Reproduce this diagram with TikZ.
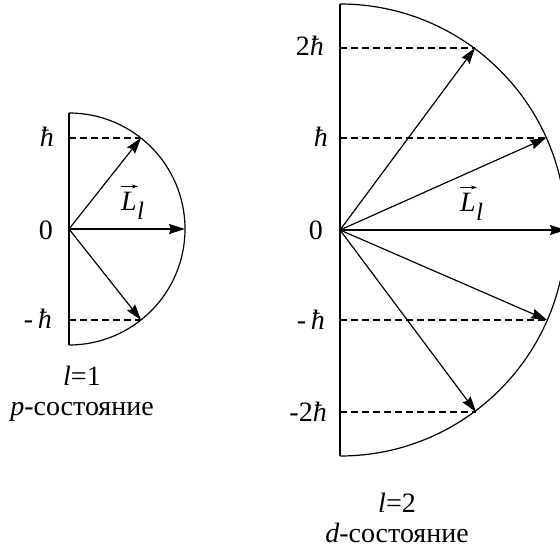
\documentclass[tikz,border=0pt]{standalone}
\usepackage{fontspec}
\setmainfont{Liberation Serif}
\usetikzlibrary{arrows.meta}
\begin{document}
\begin{tikzpicture}[x=1bp,y=-1bp,
  vecarrow/.style={line width=1.2bp,-{Stealth[length=16bp,width=10bp,inset=2bp]}},
  guide/.style={line width=1.2bp,dash pattern=on 7bp off 4bp},
  frame/.style={line width=1.2bp},
  lbl/.style={font=\fontsize{28bp}{31bp}\selectfont,inner sep=0pt},
  sublbl/.style={font=\fontsize{25bp}{27bp}\selectfont\itshape,inner sep=0pt},
  overarrow/.style={line width=1bp,-{Stealth[length=6bp,width=4bp]}}]
\useasboundingbox (0,0) rectangle (560,549);
\clip (0,0) rectangle (560,549);

% ---------- left: l = 1 ----------
\coordinate (A) at (69,229);
\coordinate (Atop) at (69,113);
\coordinate (Abot) at (69,345);
\coordinate (Ap) at (69,138);
\coordinate (Am) at (69,320);
\coordinate (Ap1) at (141,138);
\coordinate (A0) at (185,229);
\coordinate (Am1) at (141,320);
\draw[frame] (Atop) -- (Abot);
\draw[frame] (Atop) arc[start angle=90,end angle=-90,radius=116bp];
\draw[guide] (Ap) -- (Ap1);
\draw[guide] (Am) -- (Am1);
\draw[vecarrow] (A) -- (Ap1);
\draw[vecarrow] (A) -- (A0);
\draw[vecarrow] (A) -- (Am1);
\node[lbl,anchor=base east] (a1) at (54,147) {\itshape ħ};
\node[lbl,anchor=base east] (a0) at (53,239) {0};
\node[lbl,anchor=base east] (am) at (52,328) {-\,\itshape ħ};
\node[lbl,anchor=base west] (LA) at (121,211) {\itshape L};
\node[sublbl,anchor=base west] (lA) at ([xshift=0bp,yshift=-9bp]LA.base east) {l};
\draw[overarrow] ([yshift=6bp]LA.north west) -- ([xshift=1bp,yshift=6bp]LA.north east);
\node[lbl,anchor=base] (t1) at (82,385) {\itshape l\upshape =1};
\node[lbl,anchor=base] (s1) at (82,415) {\itshape p\upshape -состояние};

% ---------- right: l = 2 ----------
\coordinate (B) at (340,230);
\coordinate (Btop) at (340,4);
\coordinate (Bbot) at (340,456);
\coordinate (Bp2) at (340,48);
\coordinate (Bp1) at (340,138);
\coordinate (Bm1) at (340,320);
\coordinate (Bm2) at (340,412);
\coordinate (Tp2) at (475,48);
\coordinate (Tp1) at (546,138);
\coordinate (T0) at (566,230);
\coordinate (Tm1) at (547,320);
\coordinate (Tm2) at (476,412);
\draw[frame] (Btop) -- (Bbot);
\draw[frame] (Btop) arc[start angle=90,end angle=-90,radius=226bp];
\draw[guide] (Bp2) -- (Tp2);
\draw[guide] (Bp1) -- (Tp1);
\draw[guide] (Bm1) -- (Tm1);
\draw[guide] (Bm2) -- (Tm2);
\draw[vecarrow] (B) -- (Tp2);
\draw[vecarrow] (B) -- (Tp1);
\draw[vecarrow] (B) -- (T0);
\draw[vecarrow] (B) -- (Tm1);
\draw[vecarrow] (B) -- (Tm2);
\node[lbl,anchor=base east] (b2) at (324,56) {2\itshape ħ};
\node[lbl,anchor=base east] (b1) at (328,147) {\itshape ħ};
\node[lbl,anchor=base east] (b0) at (323,239) {0};
\node[lbl,anchor=base east] (bm1) at (325,329) {-\,\itshape ħ};
\node[lbl,anchor=base east] (bm2) at (327,421) {-2\itshape ħ};
\node[lbl,anchor=base west] (LB) at (460,212) {\itshape L};
\node[sublbl,anchor=base west] (lB) at ([xshift=0bp,yshift=-9bp]LB.base east) {l};
\draw[overarrow] ([yshift=6bp]LB.north west) -- ([xshift=1bp,yshift=6bp]LB.north east);
\node[lbl,anchor=base] (t2) at (397,512) {\itshape l\upshape =2};
\node[lbl,anchor=base] (s2) at (397,542) {\itshape d\upshape -состояние};
\end{tikzpicture}
\end{document}
